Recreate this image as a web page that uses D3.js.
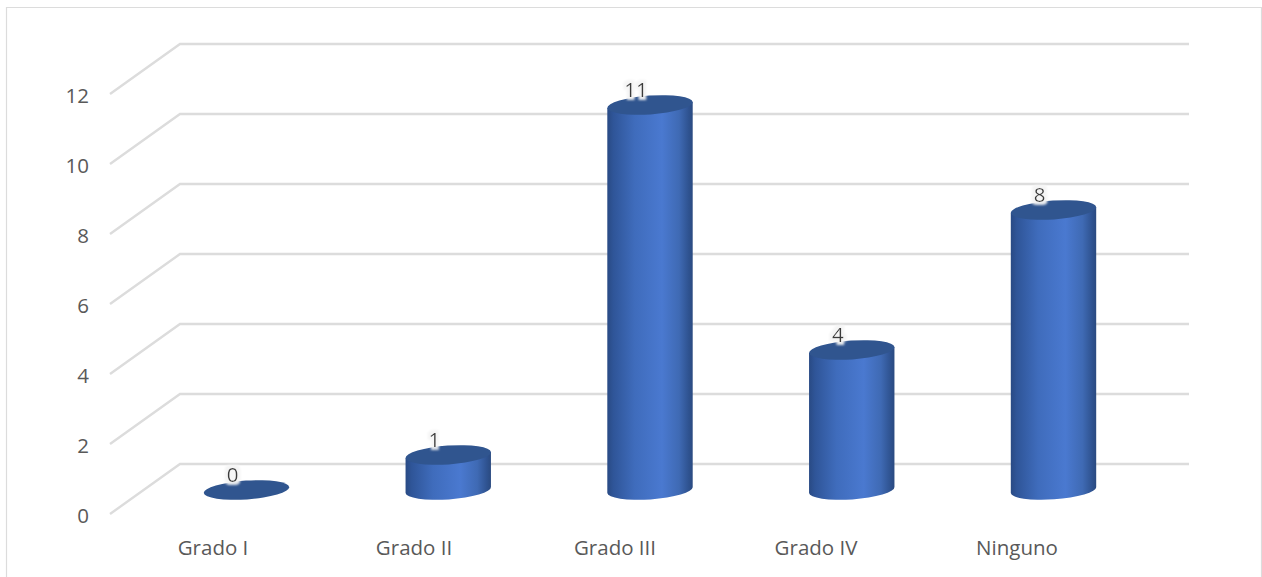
<!DOCTYPE html>
<html>
<head>
<meta charset="utf-8">
<script src="https://cdn.jsdelivr.net/npm/d3@7"></script>
<style>
  html, body { margin: 0; padding: 0; background: #fff; overflow: hidden; }
  text { font-family: "Open Sans", "Noto Sans", sans-serif; }
</style>
</head>
<body>
<script>
// Patients per grade, drawn as tilted 3D cylinders on a perspective wall.
const categories = ["Grado I", "Grado II", "Grado III", "Grado IV", "Ninguno"];
const counts = [0, 1, 11, 4, 8];
const yTicks = [0, 2, 4, 6, 8, 10, 12];

const W = 1262, H = 577;
const svg = d3.select("body").append("svg").attr("width", W).attr("height", H).style("display", "block");

const unit = 35;                 // pixels per count
const yFront = d3.scaleLinear().domain([0, 12]).range([514, 514 - 12 * unit]);
const depthX = 70, depthY = -50; // offset from the front edge to the back wall
const yBase = v => yFront(v) - 24;
const x = d3.scalePoint().domain(categories).range([246.5, 1053.5]);
const xLabel = d3.scalePoint().domain(categories).range([212.5, 1016.5]);

const rx = 42.8, ry = 9.4, tilt = -4;
const dx = rx * Math.cos(tilt * Math.PI / 180);
const dy = rx * Math.sin(tilt * Math.PI / 180);
const fontSize = "20.5px";

const defs = svg.append("defs");
const grad = defs.append("linearGradient").attr("id", "body-shade");
[[0, "#294a84"], [0.07, "#2f5598"], [0.32, "#3f6cbc"], [0.64, "#4a79d0"], [0.84, "#3f6ab4"], [0.95, "#2f5391"], [1, "#2a4a80"]]
  .forEach(([o, c]) => grad.append("stop").attr("offset", o).attr("stop-color", c));

const halo = defs.append("filter").attr("id", "label-halo")
  .attr("x", "-80%").attr("y", "-40%").attr("width", "260%").attr("height", "180%");
halo.append("feMorphology").attr("in", "SourceAlpha").attr("operator", "dilate").attr("radius", 3).attr("result", "grown");
halo.append("feGaussianBlur").attr("in", "grown").attr("stdDeviation", 1.2).attr("result", "soft");
halo.append("feFlood").attr("flood-color", "#f4f4f4").attr("flood-opacity", 0.95);
halo.append("feComposite").attr("in2", "soft").attr("operator", "in").attr("result", "glow");
const merge = halo.append("feMerge");
merge.append("feMergeNode").attr("in", "glow");
merge.append("feMergeNode").attr("in", "SourceGraphic");

// Chart frame
svg.append("path")
  .attr("d", `M6.5,${H} V7.5 H1261.5 V${H}`)
  .attr("fill", "none").attr("stroke", "#dcdcdc").attr("stroke-width", 1.2);

// Floor-to-wall diagonals and back wall gridlines
const grid = svg.append("g").attr("fill", "none").attr("stroke", "#dcdcdc").attr("stroke-width", 2.4);
grid.selectAll("path").data(yTicks).join("path")
  .attr("d", v => `M110,${yFront(v)} L${110 + depthX},${yFront(v) + depthY} H1189`);

// Value axis
const yAxis = svg.append("g").attr("transform", "translate(89,2)")
  .call(d3.axisLeft(yFront).tickValues(yTicks).tickSize(0).tickPadding(0));
yAxis.select(".domain").remove();
yAxis.selectAll("text").attr("fill", "#595959").style("font-size", fontSize)
  .style("font-family", '"Open Sans", "Noto Sans", sans-serif');

// Category axis, set left of the cylinders as the 3D projection does
const xAxis = svg.append("g").attr("transform", "translate(0,540)")
  .call(d3.axisBottom(xLabel).tickSize(0).tickPadding(0));
xAxis.select(".domain").remove();
xAxis.selectAll("text").attr("fill", "#595959").style("font-size", fontSize)
  .style("font-family", '"Open Sans", "Noto Sans", sans-serif');

// Cylinders
const rows = categories.map((c, i) => ({ c, v: counts[i] }));
const bars = svg.append("g").selectAll("g").data(rows).join("g");

bars.filter(d => d.v > 0).append("path")
  .attr("fill", "url(#body-shade)")
  .attr("d", d => {
    const cx = x(d.c), top = yBase(d.v), bot = yBase(0);
    return `M${cx - dx},${top - dy} V${bot - dy}` +
      `A${rx},${ry} ${tilt} 0 0 ${cx + dx},${bot + dy}` +
      `V${top + dy}Z`;
  });

bars.append("ellipse")
  .attr("rx", rx).attr("ry", ry).attr("fill", "#30558f")
  .attr("transform", d => `translate(${x(d.c)},${yBase(d.v)}) rotate(${tilt})`);

// Value labels on the cylinder tops
bars.append("text")
  .attr("x", d => x(d.c) - 14)
  .attr("y", d => yBase(d.v) - 8.5)
  .attr("text-anchor", "middle")
  .attr("fill", "#3a3a3a")
  .attr("filter", "url(#label-halo)")
  .style("font-size", fontSize)
  .text(d => d.v);
</script>
</body>
</html>
